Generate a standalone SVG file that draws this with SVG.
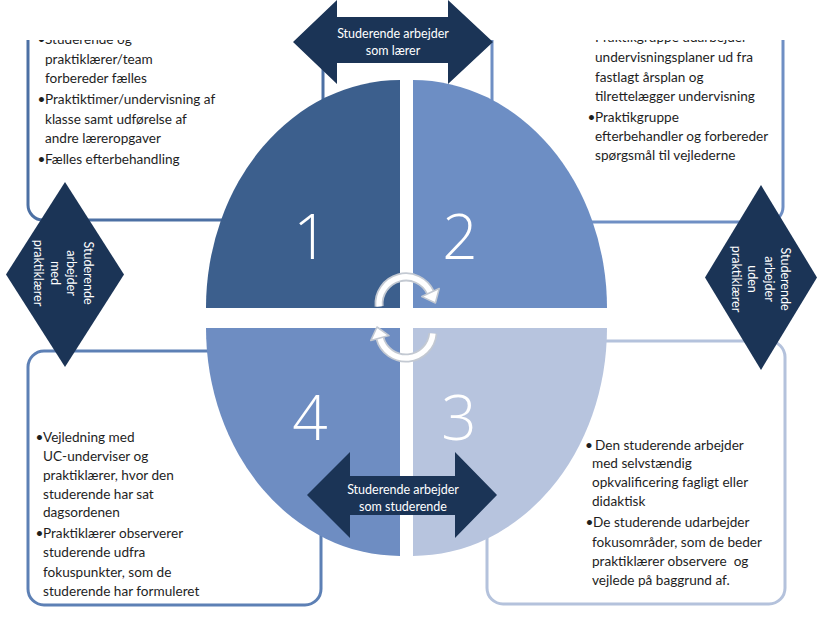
<svg xmlns="http://www.w3.org/2000/svg" width="826" height="625" viewBox="0 0 826 625">
<style>
.box{fill:#ffffff;stroke-width:3}
.t{font-family:Lato,"Liberation Sans",sans-serif;font-size:13.6px;fill:#1e1e1e}
.w{font-family:Lato,"Liberation Sans",sans-serif;font-size:12.5px;fill:#ffffff}
.num{font-family:"Open Sans",Lato,sans-serif;font-weight:300;font-size:62px;fill:#ffffff;text-anchor:middle}
.dk{fill:#1b3456}
.arcO{fill:none;stroke:#c3c9d2;stroke-width:9}
.arcI{fill:none;stroke:#ffffff;stroke-width:5.5}
.ah{fill:#ffffff;stroke:#c3c9d2;stroke-width:1.6;stroke-linejoin:round}
</style>
<rect width="826" height="625" fill="#ffffff"/>

<g id="box-top-left">
<rect class="box" x="28" y="10" width="295" height="210" rx="15" stroke="#4c70a4"/>
<text class="t"><tspan x="37.5" y="44">•</tspan><tspan x="45" y="44">Studerende og</tspan><tspan x="45" y="63.5">praktiklærer/team</tspan><tspan x="45" y="83">forbereder fælles</tspan><tspan x="37.5" y="104">•</tspan><tspan x="45" y="104">Praktiktimer/undervisning af</tspan><tspan x="45" y="123.5">klasse samt udførelse af</tspan><tspan x="45" y="143">andre læreropgaver</tspan><tspan x="37.5" y="164">•</tspan><tspan x="45" y="164">Fælles efterbehandling</tspan></text>
</g>

<g id="box-top-right">
<rect class="box" x="492" y="10" width="291" height="212" rx="15" stroke="#6f8fc4"/>
<text class="t"><tspan x="587.5" y="42">•</tspan><tspan x="595" y="42">Praktikgruppe udarbejder</tspan><tspan x="595" y="62">undervisningsplaner ud fra</tspan><tspan x="595" y="81.5">fastlagt årsplan og</tspan><tspan x="595" y="101">tilrettelægger undervisning</tspan><tspan x="587.5" y="121.5">•</tspan><tspan x="595" y="121.5">Praktikgruppe</tspan><tspan x="595" y="141">efterbehandler og forbereder</tspan><tspan x="595" y="160">spørgsmål til vejlederne</tspan></text>
</g>

<g id="box-bottom-left">
<rect class="box" x="28" y="351" width="293" height="254" rx="16" stroke="#5d80b5"/>
<text class="t"><tspan x="35.5" y="442">•</tspan><tspan x="43" y="442">Vejledning med</tspan><tspan x="43" y="461">UC-underviser og</tspan><tspan x="43" y="480">praktiklærer, hvor den</tspan><tspan x="43" y="499">studerende har sat</tspan><tspan x="43" y="517">dagsordenen</tspan><tspan x="35.5" y="538">•</tspan><tspan x="43" y="538">Praktiklærer observerer</tspan><tspan x="43" y="557">studerende udfra</tspan><tspan x="43" y="577">fokuspunkter, som de</tspan><tspan x="43" y="596">studerende har formuleret</tspan></text>
</g>

<g id="box-bottom-right">
<rect class="box" x="487" y="341" width="298" height="263" rx="16" stroke="#b4c2dc"/>
<text class="t" style="white-space:pre"><tspan x="585" y="450">•</tspan><tspan x="595" y="450">Den studerende arbejder</tspan><tspan x="592" y="468">med selvstændig</tspan><tspan x="592" y="487">opkvalificering fagligt eller</tspan><tspan x="592" y="506">didaktisk</tspan><tspan x="585.5" y="527">•</tspan><tspan x="593" y="527">De studerende udarbejder</tspan><tspan x="592" y="547">fokusområder, som de beder</tspan><tspan x="592" y="566">praktiklærer observere  og</tspan><tspan x="592" y="585">vejlede på baggrund af.</tspan></text>
</g>

<rect x="0" y="0" width="826" height="40" fill="#ffffff"/>

<g id="quadrant-1">
<path d="M400,308 L206,308 A194,228 0 0 1 400,80 Z" fill="#3c5f8d"/>
<text class="num" x="311" y="259">1</text>
</g>
<g id="quadrant-2">
<path d="M413,308 L413,80 A194,228 0 0 1 607,308 Z" fill="#6d8ec4"/>
<text class="num" x="460" y="259">2</text>
</g>
<g id="quadrant-3">
<path d="M413,328 L607,328 A194,228 0 0 1 413,556 Z" fill="#b7c4de"/>
<text class="num" x="459" y="440">3</text>
</g>
<g id="quadrant-4">
<path d="M400,328 L400,556 A194,228 0 0 1 206,328 Z" fill="#6e8dc2"/>
<text class="num" x="310" y="440">4</text>
</g>

<g id="diamond-left">
<polygon class="dk" points="65,182 124,274.5 65,367 6,274.5"/>
<text class="w" text-anchor="middle" transform="translate(63,273) rotate(90)"><tspan x="0" y="-20.5">Studerende</tspan><tspan x="0" y="-4">arbejder</tspan><tspan x="0" y="12.5">med</tspan><tspan x="0" y="29">praktiklærer</tspan></text>
</g>

<g id="diamond-right">
<polygon class="dk" points="761,185 817,277.5 761,370 705,277.5"/>
<text class="w" text-anchor="middle" transform="translate(760,279) rotate(90)"><tspan x="0" y="-21">Studerende</tspan><tspan x="0" y="-4.5">arbejder</tspan><tspan x="0" y="12">uden</tspan><tspan x="0" y="28.5">praktiklærer</tspan></text>
</g>

<g id="arrow-top">
<polygon class="dk" points="293,42 337,0 337,17 448,17 448,0 493,42 448,84 448,63 337,63 337,84"/>
<text class="w" text-anchor="middle"><tspan x="393" y="38">Studerende arbejder</tspan><tspan x="393" y="55">som lærer</tspan></text>
</g>

<g id="arrow-bottom">
<polygon class="dk" points="307,495 350,452 350,476 455,476 455,452 497,495 455,538 455,515 350,515 350,538"/>
<text class="w" text-anchor="middle"><tspan x="403" y="494">Studerende arbejder</tspan><tspan x="403" y="511">som studerende</tspan></text>
</g>

<g id="connectors">
<path class="arcO" d="M379.1,306.4 A27,27 0 0 1 430.5,292.6"/>
<path class="arcI" d="M379.1,306.4 A27,27 0 0 1 430.5,292.6"/>
<polygon class="ah" points="439.2,288.6 421.8,296.6 435.4,303"/>
<path class="arcO" d="M432.9,333.4 A27,27 0 0 1 379.9,338"/>
<path class="arcI" d="M432.9,333.4 A27,27 0 0 1 379.9,338"/>
<polygon class="ah" points="370.8,340.4 389,335.6 377,327"/>
</g>
</svg>
